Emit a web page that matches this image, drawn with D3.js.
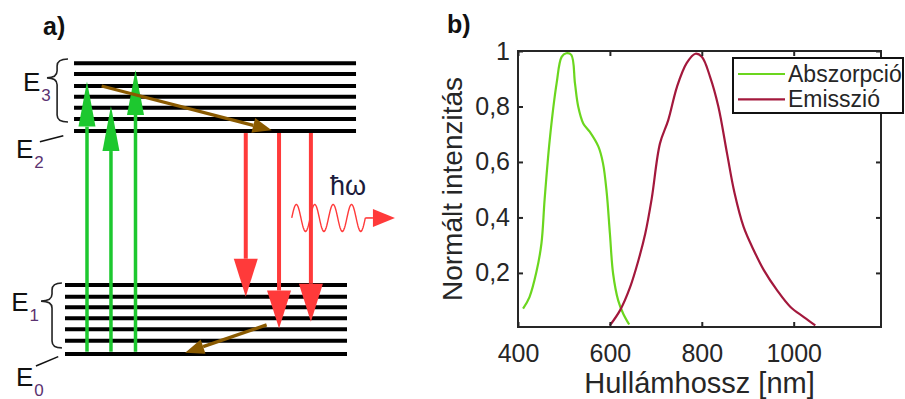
<!DOCTYPE html>
<html>
<head>
<meta charset="utf-8">
<script src="https://cdn.jsdelivr.net/npm/d3@7"></script>
<style>
  body { margin: 0; background: #fff; }
  svg { display: block; }
  text { font-family: "Liberation Sans", Arial, Helvetica, sans-serif; }
</style>
</head>
<body>
<svg id="fig" width="905" height="399"></svg>
<script>
// ---------- panel b: spectra ----------
const absWavelength = [411, 425, 440, 451, 458, 469, 484, 495, 505, 516, 524, 531, 542, 556, 575, 585, 593, 600, 607, 618, 629, 642];
const absIntensity  = [0.071, 0.113, 0.203, 0.306, 0.466, 0.679, 0.883, 0.979, 0.992, 0.986, 0.883, 0.80, 0.739, 0.709, 0.655, 0.595, 0.49, 0.342, 0.197, 0.101, 0.053, 0.014];
const emWavelength  = [600, 622, 644, 662, 677, 691, 709, 727, 746, 767, 786, 800, 818, 836, 855, 871, 891, 913, 935, 964, 993, 1022, 1047];
const emIntensity   = [0.011, 0.065, 0.149, 0.245, 0.342, 0.468, 0.667, 0.751, 0.871, 0.956, 0.99, 0.979, 0.907, 0.80, 0.63, 0.49, 0.366, 0.282, 0.21, 0.137, 0.077, 0.041, 0.011];
const seriesNames   = ["Abszorpció", "Emisszió"];
const seriesColors  = ["#6bd61e", "#a3183c"];
const xTicks = [400, 600, 800, 1000];
const yTicks = [0.2, 0.4, 0.6, 0.8, 1];

// ---------- panel a: energy levels (energy units, horizontal position units) ----------
const lowerLevels = [0, 0.46, 0.85, 1.23, 1.61, 1.97, 2.37];
const upperLevels = [7.67, 8.08, 8.47, 8.85, 9.22, 9.63, 10];
const lowerSpan = [0, 10];
const upperSpan = [0.32, 10.32];
const pumpPos  = [0.78, 1.63, 2.5];
const pumpFrom = [0.08, 0.08, 0.08];
const pumpTo   = [9.37, 8.53, 9.77];
const emitPos  = [6.41, 7.59, 8.72];
const emitFrom = [7.6, 7.6, 7.6];
const emitTo   = [1.97, 0.88, 1.11];
// non-radiative relaxation: [x0, e0, x1, e1]
const relaxUpper = [1.3, 9.22, 7.33, 7.7];
const relaxLower = [7.15, 1.0, 4.26, 0.045];
// photon: wave start, wave end, arrow tip, energy
const photon = [8.04, 10.65, 11.7, 4.68];
const photonLabel = ["ħω", 9.4, 5.47];
// level labels: main letter, subscript, x, baseline energy
const levelNames = ["E", "E", "E", "E"];
const levelSubs  = ["3", "2", "1", "0"];
const levelLabelX = [-1.49, -1.74, -1.91, -1.74];
const levelLabelE = [9.05, 6.74, 1.48, -1.1];
// braces: [xEnd, xBody, xTip, eTop, eTip, eBottom]
const braceE3 = [0.106, -0.28, -0.64, 10.15, 9.5, 7.98];
const braceE1 = [-0.11, -0.46, -0.85, 2.44, 1.82, 0.21];
// leader ticks for single levels: [x0, e0, x1, e1]
const leaderE2 = [-0.89, 7.3, -0.06, 7.51];
const leaderE0 = [-1.03, -0.41, -0.24, -0.09];

const svg = d3.select("#fig");

// ================= panel a =================
const eY = d3.scaleLinear().domain([0, 10]).range([354, 63.3]);
const uX = d3.scaleLinear().domain([0, 10]).range([65, 347]);
const gA = svg.append("g");

gA.append("text").attr("x", 43).attr("y", 35)
  .attr("font-size", 25).attr("font-weight", "bold").attr("fill", "#111").text("a)");

// level lines
const bands = [[lowerLevels, lowerSpan], [upperLevels, upperSpan]];
bands.forEach(([levels, span]) => {
  gA.append("g").selectAll("line").data(levels).join("line")
    .attr("x1", uX(span[0])).attr("x2", uX(span[1]))
    .attr("y1", d => eY(d)).attr("y2", d => eY(d))
    .attr("stroke", "#000").attr("stroke-width", 4);
});

function head(g, tipX, tipY, fromX, fromY, len, width, color) {
  const dx = tipX - fromX, dy = tipY - fromY;
  const L = Math.hypot(dx, dy), ux = dx / L, uy = dy / L;
  const bx = tipX - ux * len, by = tipY - uy * len;
  const px = -uy * width / 2, py = ux * width / 2;
  g.append("path")
    .attr("d", `M${tipX},${tipY}L${bx + px},${by + py}L${bx - px},${by - py}Z`)
    .attr("fill", color);
  return [bx, by];
}

function arrow(g, x0, y0, x1, y1, len, width, color, sw) {
  const [bx, by] = head(g, x1, y1, x0, y0, len, width, color);
  g.append("line").attr("x1", x0).attr("y1", y0).attr("x2", bx).attr("y2", by)
    .attr("stroke", color).attr("stroke-width", sw);
}

// absorption (pump) arrows
const green = "#1dc82f";
pumpPos.forEach((p, i) => {
  arrow(gA, uX(p), eY(pumpFrom[i]), uX(p), eY(pumpTo[i]), 45, 17, green, 3.5);
});

// emission arrows
const red = "#ff3a3a";
emitPos.forEach((p, i) => {
  arrow(gA, uX(p), eY(emitFrom[i]), uX(p), eY(emitTo[i]), 38, 24, red, 4);
});

// relaxation arrows
const brown = "#8a5a00";
[relaxUpper, relaxLower].forEach(r => {
  arrow(gA, uX(r[0]), eY(r[1]), uX(r[2]), eY(r[3]), 19, 15, brown, 3.3);
});

// emitted photon: wavy line + arrow
{
  const x0 = uX(photon[0]), x1 = uX(photon[1]), tip = uX(photon[2]), yc = eY(photon[3]);
  const periods = 4, amp = 13.5;
  const pts = d3.range(0, 201).map(k => {
    const t = k / 200;
    return [x0 + t * (x1 - x0), yc - amp * Math.sin(t * periods * 2 * Math.PI)];
  });
  gA.append("path").attr("d", d3.line()(pts))
    .attr("fill", "none").attr("stroke", red).attr("stroke-width", 1.4);
  arrow(gA, x1, yc, tip, yc, 22, 18, red, 1.6);
  gA.append("text").attr("x", uX(photonLabel[1])).attr("y", eY(photonLabel[2]))
    .attr("font-size", 27).attr("fill", "#1b1b3c").text(photonLabel[0]);
}

// braces
function brace(b) {
  const [xe, xb, xt, et, ei, ebm] = b;
  const X = uX, Y = eY;
  const r = 7;
  const yT = Y(et), yI = Y(ei), yB = Y(ebm);
  const d = `M${X(xe)},${yT} Q${X(xb)},${yT} ${X(xb)},${yT + r}` +
            ` L${X(xb)},${yI - r} Q${X(xb)},${yI} ${X(xt)},${yI}` +
            ` Q${X(xb)},${yI} ${X(xb)},${yI + r}` +
            ` L${X(xb)},${yB - r} Q${X(xb)},${yB} ${X(xe)},${yB}`;
  gA.append("path").attr("d", d).attr("fill", "none")
    .attr("stroke", "#222").attr("stroke-width", 1.6);
}
brace(braceE3);
brace(braceE1);

[leaderE2, leaderE0].forEach(l => {
  gA.append("line").attr("x1", uX(l[0])).attr("y1", eY(l[1]))
    .attr("x2", uX(l[2])).attr("y2", eY(l[3]))
    .attr("stroke", "#111").attr("stroke-width", 1.6);
});

levelNames.forEach((n, i) => {
  const t = gA.append("text").attr("x", uX(levelLabelX[i])).attr("y", eY(levelLabelE[i]))
    .attr("font-size", 26).attr("fill", "#111");
  t.append("tspan").text(n);
  t.append("tspan").attr("dx", 1).attr("dy", 10).attr("font-size", 17)
    .attr("fill", "#5b3270").text(levelSubs[i]);
});

// ================= panel b =================
const x = d3.scaleLinear().domain([400, 1190]).range([518, 881]);
const y = d3.scaleLinear().domain([0.005, 1]).range([327, 51]);
const gB = svg.append("g");
const ink = "#262626";
const fmt = d => String(d).replace(".", ",");

gB.append("text").attr("x", 447).attr("y", 33)
  .attr("font-size", 25).attr("font-weight", "bold").attr("fill", "#111").text("b)");

// curves
const line = d3.line().x(d => x(d[0])).y(d => y(d[1])).curve(d3.curveCatmullRom.alpha(0.5));
const series = [d3.zip(absWavelength, absIntensity), d3.zip(emWavelength, emIntensity)];
series.forEach((s, i) => {
  gB.append("path").datum(s).attr("d", line)
    .attr("fill", "none").attr("stroke", seriesColors[i]).attr("stroke-width", 2.2)
    .attr("stroke-linejoin", "round");
});

// axes with inward ticks on all four sides
function styleAxis(g) {
  g.select(".domain").remove();
  g.selectAll(".tick line").attr("stroke", ink).attr("stroke-width", 2);
  g.selectAll(".tick text").attr("fill", ink).attr("font-size", 25)
    .attr("font-family", "'Liberation Sans', Arial, sans-serif");
}
gB.append("g").attr("transform", `translate(0,${y.range()[0]})`)
  .call(d3.axisBottom(x).tickValues(xTicks).tickFormat(fmt).tickSizeInner(-5).tickSizeOuter(0).tickPadding(17))
  .call(styleAxis);
gB.append("g").attr("transform", `translate(0,${y.range()[1]})`)
  .call(d3.axisTop(x).tickValues(xTicks).tickFormat("").tickSizeInner(-5).tickSizeOuter(0))
  .call(styleAxis);
gB.append("g").attr("transform", `translate(${x.range()[0]},0)`)
  .call(d3.axisLeft(y).tickValues(yTicks).tickFormat(fmt).tickSizeInner(-5).tickSizeOuter(0).tickPadding(8))
  .call(styleAxis);
gB.append("g").attr("transform", `translate(${x.range()[1]},0)`)
  .call(d3.axisRight(y).tickValues(yTicks).tickFormat("").tickSizeInner(-5).tickSizeOuter(0))
  .call(styleAxis);

gB.append("rect")
  .attr("x", x.range()[0]).attr("y", y.range()[1])
  .attr("width", x.range()[1] - x.range()[0]).attr("height", y.range()[0] - y.range()[1])
  .attr("fill", "none").attr("stroke", ink).attr("stroke-width", 2);

// axis titles
gB.append("text").attr("x", (x.range()[0] + x.range()[1]) / 2).attr("y", 393)
  .attr("text-anchor", "middle").attr("font-size", 29).attr("fill", ink)
  .text("Hullámhossz [nm]");
gB.append("text")
  .attr("transform", `translate(462,${(y.range()[0] + y.range()[1]) / 2}) rotate(-90)`)
  .attr("text-anchor", "middle").attr("font-size", 28).attr("fill", ink)
  .text("Normált intenzitás");

// legend
const lg = gB.append("g");
lg.append("rect").attr("x", 733).attr("y", 58).attr("width", 170).attr("height", 55)
  .attr("fill", "#fff").attr("stroke", "#111").attr("stroke-width", 2);
seriesNames.forEach((n, i) => {
  const ly = 74 + i * 25.3;
  lg.append("line").attr("x1", 738).attr("x2", 785).attr("y1", ly).attr("y2", ly)
    .attr("stroke", seriesColors[i]).attr("stroke-width", 2.2);
  lg.append("text").attr("x", 788).attr("y", ly + 8).attr("font-size", 23)
    .attr("fill", ink).text(n);
});
</script>
</body>
</html>
